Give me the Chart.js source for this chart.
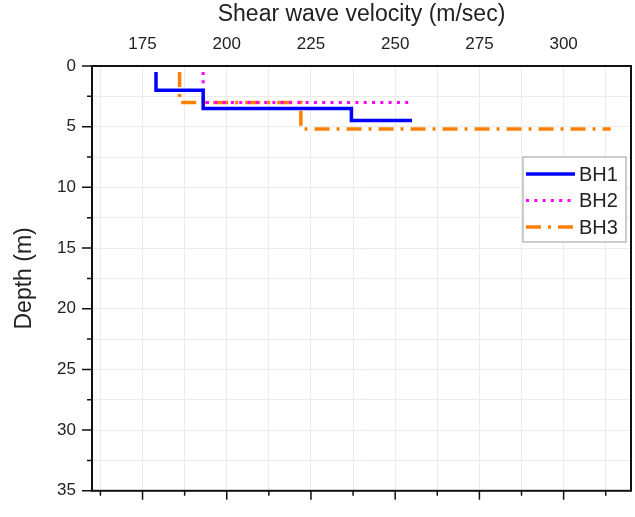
<!DOCTYPE html>
<html>
<head>
<meta charset="utf-8">
<script src="https://cdn.jsdelivr.net/npm/chart.js@4.4.0/dist/chart.umd.min.js"></script>
<style>
  html, body { margin: 0; padding: 0; background: #fff; }
  #wrap { width: 635px; height: 517px; }
</style>
</head>
<body>
<div id="wrap"><canvas id="chart" width="635" height="517"></canvas></div>
<script>
// layer top depths (m) and shear wave velocities (m/sec)
var bh1Depth = [0.5, 2, 3.5, 4.5];
var bh1Vs = [179, 193, 237, 255];
var bh2Depth = [0.5, 3];
var bh2Vs = [193, 254];
var bh3Depth = [0.5, 3, 5.2];
var bh3Vs = [186, 222, 314];

var seriesNames = ['BH1', 'BH2', 'BH3'];
var velocityTicks = [175, 200, 225, 250, 275, 300];
var depthTicks = [0, 5, 10, 15, 20, 25, 30, 35];
var velocityRange = [160, 320];
var depthRange = [0, 35];

// corner points of the step line for one borehole
function stepPoints(depths, vs) {
  var pts = [];
  for (var i = 0; i < vs.length; i++) {
    if (i > 0) pts.push({x: vs[i - 1], y: depths[i]});
    pts.push({x: vs[i], y: depths[i]});
  }
  return pts;
}

// major ticks plus the minor ones half way between them
function withMinor(major, range) {
  var half = (major[1] - major[0]) / 2;
  var out = [];
  for (var v = major[0] - half; v <= range[1]; v += half) {
    if (v >= range[0]) out.push(v);
  }
  return out;
}
var velocityAll = withMinor(velocityTicks, velocityRange);
var depthAll = withMinor(depthTicks, depthRange);

Chart.defaults.font.family = "'Liberation Sans', Arial, sans-serif";
Chart.defaults.color = '#222';

var gridColor = '#ececec';

// tick marks (long for major, short for minor) and the black frame
var axisMarks = {
  id: 'axisMarks',
  afterDraw: function(chart) {
    var ctx = chart.ctx, a = chart.chartArea;
    var xs = chart.scales.x2, ys = chart.scales.y;
    ctx.save();
    ctx.strokeStyle = '#111';
    ctx.lineWidth = 1.5;
    ctx.beginPath();
    xs.ticks.forEach(function(t) {
      var px = xs.getPixelForValue(t.value);
      var len = velocityTicks.indexOf(t.value) >= 0 ? 9 : 5;
      ctx.moveTo(px, a.bottom);
      ctx.lineTo(px, a.bottom + len);
    });
    ys.ticks.forEach(function(t) {
      var py = ys.getPixelForValue(t.value);
      var len = depthTicks.indexOf(t.value) >= 0 ? 10 : 5;
      ctx.moveTo(a.left, py);
      ctx.lineTo(a.left - len, py);
    });
    ctx.stroke();
    ctx.lineWidth = 2;
    ctx.strokeRect(a.left, a.top, a.right - a.left, a.bottom - a.top);
    ctx.restore();
  }
};

// legend box inside the plot, right side
var insideLegend = {
  id: 'insideLegend',
  afterDraw: function(chart) {
    var ctx = chart.ctx, a = chart.chartArea;
    var bx = a.right - 108, by = a.top + 91, bw = 103, bh = 85;
    ctx.save();
    ctx.fillStyle = '#fff';
    ctx.fillRect(bx, by, bw, bh);
    ctx.strokeStyle = '#9a9a9a';
    ctx.lineWidth = 1;
    ctx.strokeRect(bx, by, bw, bh);
    ctx.font = "20px 'Liberation Sans', Arial, sans-serif";
    ctx.textBaseline = 'middle';
    chart.data.datasets.forEach(function(ds, i) {
      var y = by + 17 + i * 26.5;
      ctx.strokeStyle = ds.borderColor;
      ctx.lineWidth = ds.borderWidth;
      ctx.setLineDash(ds.borderDash || []);
      ctx.beginPath();
      ctx.moveTo(bx + 3, y);
      ctx.lineTo(bx + 52, y);
      ctx.stroke();
      ctx.setLineDash([]);
      ctx.fillStyle = '#222';
      ctx.fillText(ds.label, bx + 56, y + 1);
    });
    ctx.restore();
  }
};

var ctx = document.getElementById('chart').getContext('2d');
new Chart(ctx, {
  type: 'scatter',
  data: {
    datasets: [{
      label: seriesNames[0],
      data: stepPoints(bh1Depth, bh1Vs),
      showLine: true,
      borderColor: '#0000ff',
      borderWidth: 3.5,
      pointRadius: 0
    }, {
      label: seriesNames[1],
      data: stepPoints(bh2Depth, bh2Vs),
      showLine: true,
      borderColor: '#ff00ff',
      borderWidth: 3,
      borderDash: [3, 5.3],
      pointRadius: 0
    }, {
      label: seriesNames[2],
      data: stepPoints(bh3Depth, bh3Vs),
      showLine: true,
      borderColor: '#ff8000',
      borderWidth: 3.5,
      borderDash: [15, 7, 3, 7],
      pointRadius: 0
    }]
  },
  options: {
    responsive: false,
    animation: false,
    layout: { padding: { left: 0, right: 4, top: 0, bottom: 0 } },
    plugins: {
      legend: { display: false },
      tooltip: { enabled: false }
    },
    scales: {
      x: {
        type: 'linear',
        position: 'top',
        min: velocityRange[0],
        max: velocityRange[1],
        afterBuildTicks: function(s) { s.ticks = velocityAll.map(function(v) { return {value: v}; }); },
        afterFit: function(s) { s.height = 66; },
        grid: { color: gridColor, lineWidth: 1, drawTicks: false },
        border: { display: false },
        ticks: {
          autoSkip: false,
          maxRotation: 0,
          padding: 11,
          font: { size: 17 },
          callback: function(v) { return velocityTicks.indexOf(v) >= 0 ? v : ''; }
        },
        title: {
          display: true,
          text: 'Shear wave velocity (m/sec)',
          font: { size: 23 },
          padding: { top: 1, bottom: 0 }
        }
      },
      x2: {
        type: 'linear',
        position: 'bottom',
        min: velocityRange[0],
        max: velocityRange[1],
        afterBuildTicks: function(s) { s.ticks = velocityAll.map(function(v) { return {value: v}; }); },
        afterFit: function(s) { s.height = 16; },
        grid: { display: false, drawTicks: false },
        border: { display: false },
        ticks: { display: false }
      },
      y: {
        type: 'linear',
        position: 'left',
        reverse: true,
        min: depthRange[0],
        max: depthRange[1],
        afterBuildTicks: function(s) { s.ticks = depthAll.map(function(v) { return {value: v}; }); },
        afterFit: function(s) { s.width = 92; },
        grid: { color: gridColor, lineWidth: 1, drawTicks: false },
        border: { display: false },
        ticks: {
          autoSkip: false,
          padding: 16,
          font: { size: 17 },
          callback: function(v) { return depthTicks.indexOf(v) >= 0 ? v : ''; }
        },
        title: {
          display: true,
          text: 'Depth (m)',
          font: { size: 23 },
          padding: { top: 11, bottom: 0 }
        }
      }
    }
  },
  plugins: [axisMarks, insideLegend]
});
</script>
</body>
</html>
